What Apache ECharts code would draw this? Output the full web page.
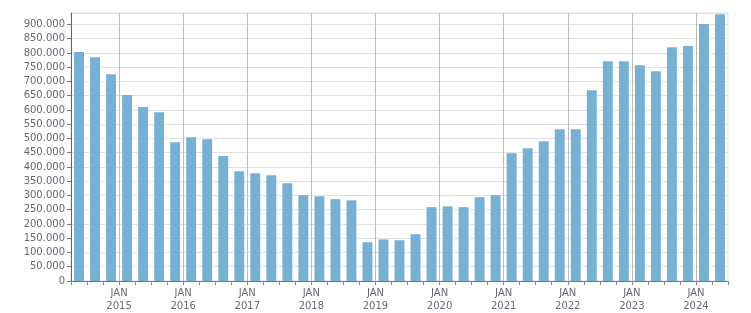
<!DOCTYPE html>
<html>
<head>
<meta charset="utf-8">
<script src="https://cdn.jsdelivr.net/npm/echarts@6/dist/echarts.min.js"></script>
<style>
html,body{margin:0;padding:0;background:#fff;}
#c{width:751px;height:313px;}
</style>
</head>
<body>
<div id="c"></div>
<script>
// Quarterly categories 2014 Q2 .. 2024 Q2
const quarters = [
  '2014Q2','2014Q3','2014Q4',
  '2015Q1','2015Q2','2015Q3','2015Q4',
  '2016Q1','2016Q2','2016Q3','2016Q4',
  '2017Q1','2017Q2','2017Q3','2017Q4',
  '2018Q1','2018Q2','2018Q3','2018Q4',
  '2019Q1','2019Q2','2019Q3','2019Q4',
  '2020Q1','2020Q2','2020Q3','2020Q4',
  '2021Q1','2021Q2','2021Q3','2021Q4',
  '2022Q1','2022Q2','2022Q3','2022Q4',
  '2023Q1','2023Q2','2023Q3','2023Q4',
  '2024Q1','2024Q2'
];
const values = [
  803000, 785000, 725000,
  652000, 610000, 592000, 487000,
  504000, 497000, 438000, 385000,
  378000, 371000, 343000, 301000,
  297000, 287000, 283000, 136000,
  146000, 143000, 164000, 259000,
  262000, 259000, 294000, 301000,
  448000, 466000, 490000, 532000,
  532000, 669000, 771000, 771000,
  757000, 736000, 820000, 824000,
  901000, 936000
];
// Boundary labels (one per quarter boundary, 42 entries); only January boundaries labelled
const boundaryLabels = [
  '', '', '',
  'JAN\n2015', '', '', '',
  'JAN\n2016', '', '', '',
  'JAN\n2017', '', '', '',
  'JAN\n2018', '', '', '',
  'JAN\n2019', '', '', '',
  'JAN\n2020', '', '', '',
  'JAN\n2021', '', '', '',
  'JAN\n2022', '', '', '',
  'JAN\n2023', '', '', '',
  'JAN\n2024', '', ''
];
const yMax = 940000;
const yStep = 50000;

const labelColor = '#686878';
const fontFamily = 'DejaVu Sans';

function fmt(v){
  if (v === 0) return '0';
  return String(v).replace(/\B(?=(\d{3})+(?!\d))/g, '.');
}

const chart = echarts.init(document.getElementById('c'), null, {renderer:'canvas'});
chart.setOption({
  animation: false,
  grid: {left: 71, right: 23, top: 13, bottom: 32, show: true, borderColor: '#dddddd', borderWidth: 1, containLabel: false},
  xAxis: [
    {
      type: 'category',
      data: quarters,
      boundaryGap: true,
      position: 'bottom',
      axisLine: {show: true, lineStyle: {color: '#777777', width: 1}},
      axisTick: {show: true, interval: 0, length: 4, lineStyle: {color: '#888888'}},
      axisLabel: {show: false, interval: 0},
      splitLine: {show: false}
    },
    {
      type: 'category',
      data: boundaryLabels,
      boundaryGap: false,
      position: 'bottom',
      axisLine: {show: false},
      axisTick: {show: false},
      axisLabel: {
        show: true,
        interval: function(i, v){ return v !== ''; },
        color: labelColor,
        fontFamily: fontFamily,
        fontSize: 10,
        lineHeight: 13,
        margin: 6
      },
      splitLine: {
        show: true,
        interval: function(i, v){ return v !== ''; },
        lineStyle: {color: '#bbbbbb', width: 1}
      }
    }
  ],
  yAxis: {
    type: 'value',
    min: 0,
    max: yMax,
    interval: yStep,
    axisLine: {show: true, lineStyle: {color: '#666666', width: 1}},
    axisTick: {show: true, length: 4, lineStyle: {color: '#777777'}},
    axisLabel: {
      color: labelColor,
      fontFamily: fontFamily,
      fontSize: 10,
      margin: 6,
      showMaxLabel: false,
      formatter: function(v){ return (v % yStep === 0) ? fmt(v) : ''; }
    },
    splitLine: {show: true, lineStyle: {color: '#e0e0e0', width: 1}}
  },
  series: [{
    type: 'bar',
    xAxisIndex: 0,
    data: values,
    barWidth: '62%',
    itemStyle: {color: '#78b0d4'}
  }]
});
</script>
</body>
</html>
